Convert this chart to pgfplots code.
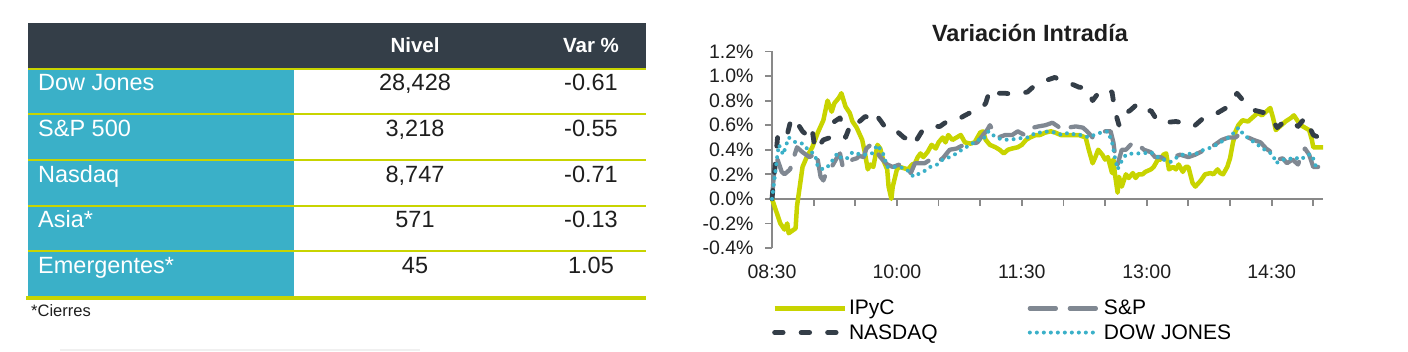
\documentclass[border=0pt]{standalone}
\usepackage{pgfplots}
\pgfplotsset{compat=1.18}
\usepackage{fontspec}
\setmainfont{Liberation Sans}
\definecolor{ipyc}{RGB}{200,212,0}
\definecolor{nasdaq}{RGB}{52,62,72}
\definecolor{spc}{RGB}{128,136,146}
\definecolor{dow}{RGB}{58,176,200}
\definecolor{hdr}{RGB}{52,62,72}
\definecolor{tealc}{RGB}{58,176,200}
\definecolor{axgray}{RGB}{137,137,137}
\definecolor{txt}{RGB}{30,30,30}
\newcommand{\rowfont}{\fontsize{23.5}{27}\selectfont}
\begin{document}
\begin{tikzpicture}
\begin{scope}[x=1pt,y=1pt]
\useasboundingbox (0,0) rectangle (1408,-352);
% ---- table ----
\fill[hdr] (28,-23) rectangle (646,-69);
\fill[tealc] (28,-69) rectangle (294,-297);
\foreach \y in {69,114,160,206,251} \draw[ipyc, line width=1.5pt] (28,-\y) -- (646,-\y);
\draw[ipyc, line width=4pt] (26,-298) -- (646,-298);
\draw[black!6, line width=2pt] (60,-350) -- (420,-350);
\node[anchor=base, inner sep=0pt, white, font=\bfseries\fontsize{20.5}{24}\selectfont] at (415,-53) {Nivel};
\node[anchor=base, inner sep=0pt, white, font=\bfseries\fontsize{20.5}{24}\selectfont] at (591,-53) {Var \%};
\tikzset{lab/.style={anchor=base west, inner sep=0pt, white, font=\rowfont},
         val/.style={anchor=base, inner sep=0pt, text=txt, font=\rowfont}}
\node[lab] at (38,-91) {Dow Jones};
\node[val] at (415,-91) {28,428};
\node[val] at (591,-91) {-0.61};
\node[lab] at (38,-137) {S\&P 500};
\node[val] at (415,-137) {3,218};
\node[val] at (591,-137) {-0.55};
\node[lab] at (38,-183) {Nasdaq};
\node[val] at (415,-183) {8,747};
\node[val] at (591,-183) {-0.71};
\node[lab] at (38,-228) {Asia*};
\node[val] at (415,-228) {571};
\node[val] at (591,-228) {-0.13};
\node[lab] at (38,-274) {Emergentes*};
\node[val] at (415,-274) {45};
\node[val] at (591,-274) {1.05};
\node[anchor=base west, inner sep=0pt, text=txt, font=\fontsize{16.5}{18}\selectfont] at (31,-317) {*Cierres};
% ---- chart title ----
\node[anchor=base, inner sep=0pt, text=txt, font=\bfseries\fontsize{23.5}{27}\selectfont] at (1030,-41.5) {Variación Intradía};
\end{scope}
\begin{axis}[
  at={(772pt,-248pt)}, anchor=south west,
  scale only axis, width=551pt, height=196.5pt,
  xmin=0, xmax=397, ymin=-0.4, ymax=1.2,
  axis y line*=left, axis x line*=bottom,
  x axis line style={draw=none},
  y axis line style={axgray, line width=2.2pt},
  xtick={0,90,180,270,360}, xticklabels={08:30,10:00,11:30,13:00,14:30},
  xtick style={draw=none},
  ytick={-0.4,-0.2,0,0.2,0.4,0.6,0.8,1.0,1.2},
  yticklabels={-0.4\%,-0.2\%,0.0\%,0.2\%,0.4\%,0.6\%,0.8\%,1.0\%,1.2\%},
  ytick style={axgray, line width=1.8pt},
  tick align=outside, major tick length=7pt,
  ticklabel style={font=\fontsize{19.5}{22}\selectfont, text=txt},
  yticklabel style={xshift=-8pt},
  xticklabel style={yshift=-6pt},
  clip=false,
  legend columns=2,
  legend cell align=left,
  legend style={at={(0,-0.255)}, anchor=north west, draw=none, fill=none,
    font=\fontsize{21}{23}\selectfont, inner sep=0pt, row sep=4pt,
    /tikz/every even column/.append style={column sep=88pt}},
  legend image code/.code={\draw[#1] (0pt,0pt) -- (70pt,0pt);},
]
\draw[axgray, line width=2.2pt] (axis cs:0,0) -- (axis cs:397,0);
\pgfplotsinvokeforeach{30,60,90,120,150,180,210,240,270,300,330,360,390}{\draw[axgray, line width=1.8pt] (axis cs:#1,0) -- ([yshift=-7pt]axis cs:#1,0);}
% IPyC
\addplot[ipyc, line width=4.5pt, line join=round] coordinates {
(0,0) (6,-0.2) (9,-0.25) (11,-0.2) (12,-0.28) (17,-0.24) (18,-0.06) (20,0.1) (22,0.26) (25,0.34)
(29,0.42) (33,0.54) (37,0.64) (40,0.8) (43,0.71) (45,0.78) (48,0.82) (50,0.86) (53,0.75) (56,0.7)
(58,0.63) (61,0.58) (65,0.48) (67,0.37) (69,0.24) (71,0.28) (73,0.26) (76,0.44) (78,0.41) (80,0.32)
(83,0.24) (84,0.1) (86,0.0) (87,0.1) (90,0.24) (92,0.26) (95,0.25) (98,0.24) (101,0.28) (103,0.29)
(105,0.34) (107,0.37) (109,0.34) (112,0.38) (115,0.44) (118,0.41) (120,0.46) (123,0.5) (125,0.46) (127,0.52)
(130,0.48) (133,0.5) (136,0.52) (139,0.46) (143,0.45) (146,0.46) (150,0.54) (152,0.55) (154,0.48) (157,0.44)
(161,0.42) (164,0.4) (167,0.37) (170,0.4) (173,0.41) (177,0.42) (180,0.44) (183,0.48) (186,0.5) (190,0.52)
(193,0.52) (197,0.54) (201,0.55) (204,0.54) (208,0.52) (211,0.52) (216,0.52) (221,0.52) (226,0.5) (228,0.41)
(231,0.29) (233,0.34) (235,0.4) (238,0.36) (240,0.32) (242,0.34) (245,0.21) (246,0.32) (247,0.21) (249,0.05)
(250,0.18) (252,0.1) (255,0.2) (257,0.17) (260,0.21) (262,0.17) (264,0.2) (267,0.2) (269,0.22) (273,0.24)
(275,0.26) (278,0.32) (280,0.32) (282,0.36) (284,0.37) (286,0.24) (289,0.26) (291,0.24) (293,0.28) (296,0.22)
(298,0.26) (300,0.26) (303,0.13) (305,0.1) (309,0.15) (312,0.2) (316,0.21) (318,0.2) (321,0.24) (323,0.21)
(325,0.2) (328,0.26) (330,0.33) (332,0.45) (334,0.55) (336,0.6) (339,0.64) (343,0.63) (346,0.66) (350,0.7)
(353,0.68) (357,0.72) (359,0.74) (361,0.66) (363,0.56) (366,0.59) (370,0.63) (374,0.66) (376,0.68) (379,0.63)
(381,0.6) (384,0.58) (387,0.56) (389,0.48) (390,0.42) (394,0.42) (397,0.42)
};
\addlegendentry{IPyC}
% S&P
\addplot[spc, line width=4.3pt, line cap=round, line join=round, dash pattern=on 26pt off 14pt] coordinates {
(0,0) (2,0.29) (4,0.32) (7,0.22) (9,0.2) (13,0.24) (18,0.42) (22,0.38) (27,0.34) (30,0.36)
(32,0.38) (35,0.18) (37,0.15) (40,0.24) (43,0.26) (47,0.34) (49,0.37) (51,0.26) (55,0.28) (58,0.32)
(61,0.33) (63,0.35) (66,0.34) (68,0.41) (71,0.44) (74,0.41) (78,0.34) (83,0.28) (87,0.26) (92,0.28)
(97,0.25) (100,0.21) (103,0.29) (110,0.29) (114,0.32) (119,0.3) (123,0.33) (128,0.4) (133,0.41) (138,0.44)
(143,0.44) (148,0.46) (152,0.52) (155,0.56) (157,0.6) (160,0.54) (163,0.5) (168,0.52) (173,0.52) (177,0.55)
(182,0.52) (188,0.58) (192,0.59) (197,0.6) (202,0.62) (206,0.59) (209,0.56) (213,0.58) (219,0.59) (224,0.58)
(227,0.55) (231,0.5) (235,0.52) (240,0.55) (244,0.55) (246,0.46) (247,0.37) (249,0.28) (252,0.4) (255,0.4)
(260,0.46) (264,0.44) (268,0.4) (273,0.38) (276,0.34) (280,0.34) (283,0.32) (287,0.33) (294,0.36) (300,0.34)
(305,0.36) (312,0.4) (319,0.44) (324,0.48) (329,0.5) (334,0.5) (338,0.54) (343,0.5) (347,0.48) (352,0.46)
(356,0.41) (361,0.37) (364,0.32) (368,0.33) (371,0.29) (375,0.32) (379,0.28) (382,0.37) (384,0.41) (387,0.36)
(390,0.26) (394,0.26) (397,0.27)
};
\addlegendentry{S\&P}
% NASDAQ
\addplot[nasdaq, line width=4.8pt, line cap=round, line join=round, dash pattern=on 8.5pt off 18pt] coordinates {
(0,0) (2,0.24) (4,0.5) (5,0.48) (10,0.48) (14,0.66) (18,0.62) (22,0.55) (27,0.5) (29,0.56)
(31,0.4) (33,0.42) (37,0.48) (42,0.5) (45,0.63) (49,0.66) (53,0.5) (55,0.56) (58,0.64) (63,0.63)
(67,0.67) (72,0.66) (74,0.7) (78,0.64) (83,0.56) (90,0.55) (95,0.5) (99,0.48) (102,0.44) (108,0.55)
(113,0.59) (121,0.59) (126,0.63) (133,0.64) (139,0.68) (146,0.72) (152,0.75) (154,0.78) (157,0.89) (161,0.86)
(168,0.86) (175,0.85) (184,0.87) (188,0.91) (195,0.94) (199,0.97) (204,0.99) (206,0.97) (213,0.95) (217,0.93)
(221,0.91) (227,0.9) (231,0.8) (237,0.89) (245,0.87) (247,0.72) (250,0.6) (251,0.67) (258,0.72) (262,0.76)
(268,0.7) (273,0.72) (278,0.63) (282,0.62) (291,0.63) (296,0.62) (304,0.59) (307,0.62) (312,0.67) (321,0.7)
(327,0.74) (332,0.8) (335,0.86) (338,0.82) (343,0.76) (348,0.72) (355,0.7) (359,0.67) (364,0.58) (368,0.62)
(375,0.63) (379,0.59) (384,0.66) (387,0.59) (390,0.52) (394,0.5) (397,0.48)
};
\addlegendentry{NASDAQ}
% DOW JONES
\addplot[dow, line width=4pt, line cap=round, dash pattern=on 0pt off 7pt] coordinates {
(0,0) (2,0.18) (4,0.37) (5,0.44) (8,0.36) (12,0.5) (17,0.46) (22,0.45) (26,0.4) (31,0.36)
(33,0.26) (37,0.24) (40,0.26) (44,0.32) (47,0.37) (50,0.33) (54,0.33) (58,0.38) (64,0.36) (67,0.36)
(72,0.37) (76,0.44) (80,0.37) (83,0.26) (87,0.26) (92,0.26) (97,0.24) (102,0.18) (105,0.2) (109,0.22)
(114,0.26) (119,0.28) (123,0.32) (128,0.34) (133,0.37) (138,0.41) (143,0.44) (148,0.48) (152,0.48) (156,0.55)
(159,0.52) (164,0.49) (170,0.48) (177,0.49) (182,0.5) (185,0.5) (190,0.54) (195,0.54) (199,0.55) (204,0.54)
(209,0.52) (214,0.54) (219,0.52) (224,0.52) (228,0.5) (232,0.52) (237,0.54) (242,0.55) (245,0.46) (247,0.34)
(249,0.24) (251,0.29) (255,0.36) (260,0.37) (267,0.37) (273,0.38) (278,0.34) (282,0.32) (287,0.3) (292,0.34)
(296,0.36) (303,0.37) (306,0.37) (311,0.4) (317,0.42) (323,0.46) (329,0.5) (334,0.55) (336,0.58) (340,0.52)
(345,0.48) (350,0.44) (355,0.4) (361,0.36) (363,0.29) (368,0.32) (372,0.32) (376,0.34) (381,0.32) (386,0.36)
(389,0.36) (392,0.26) (395,0.26)
};
\addlegendentry{DOW JONES}
\end{axis}
\end{tikzpicture}
\end{document}
